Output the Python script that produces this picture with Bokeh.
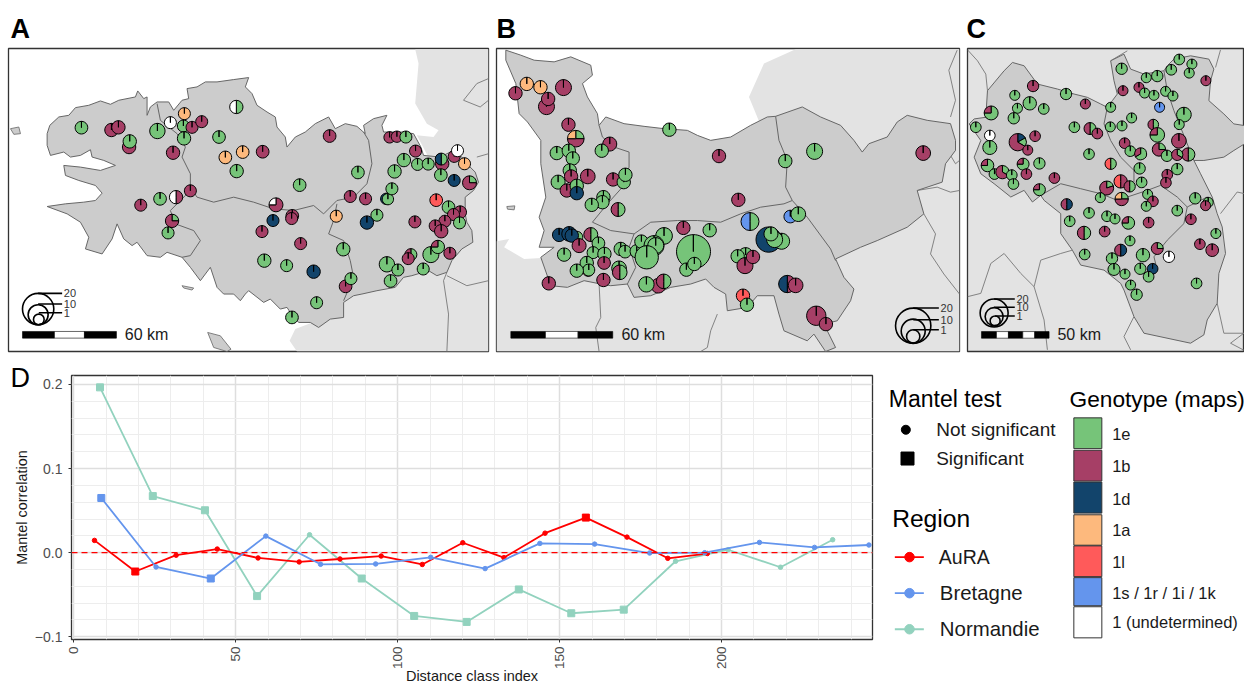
import math
from bokeh.plotting import figure
from bokeh.layouts import column, row
from bokeh.models import Range1d, FixedTicker, Title
from bokeh.core.properties import value
from bokeh.embed import file_html
from bokeh.resources import INLINE

FONT = "Liberation Sans"
GENO = {"e": "#76C479", "b": "#A63F66", "d": "#12446B", "a": "#FDB97D",
        "l": "#FF5A5A", "s": "#6495ED", "u": "#FFFFFF"}

# ---- Panel D: Mantel correlograms
aura_x = [6.4, 19, 31.6, 44.3, 56.9, 69.6, 82.2, 94.9, 107.6, 120.1, 132.8, 145.5, 158.1, 170.8, 183.4, 195.6]
aura_y = [.0146, -.0224, -.003, .0043, -.0063, -.011, -.0075, -.004, -.014, .0118, -.0059, .0232, .0417, .0185, -.0067, -.001]
aura_sig = [0, 1, 0, 0, 0, 0, 0, 0, 0, 0, 0, 0, 1, 0, 0, 0]
bret_x = [8.5, 25.4, 42.3, 59.3, 76.2, 93.2, 110.2, 127, 143.9, 160.8, 177.8, 194.8, 211.7, 228.7, 245.5]
bret_y = [.065, -.017, -.0307, .0197, -.0138, -.0134, -.0055, -.0189, .011, .0102, -.0004, 0, .0122, .0063, .0091]
bret_sig = [1, 0, 1, 0, 0, 0, 0, 0, 0, 0, 0, 0, 0, 0, 0]
norm_x = [8.1, 24.4, 40.5, 56.6, 72.8, 88.9, 105.1, 121.3, 137.4, 153.6, 169.8, 185.8, 202, 218.2, 234.3]
norm_y = [.1965, .0673, .0504, -.0516, .0213, -.0307, -.0752, -.0823, -.0437, -.072, -.0677, -.0102, .0035, -.0173, .0154]
norm_sig = [1, 1, 1, 1, 0, 1, 1, 1, 1, 1, 1, 0, 0, 0, 0]
x_ticks = [0, 50, 100, 150, 200]
x_minor = [10, 20, 30, 40, 60, 70, 80, 90, 110, 120, 130, 140, 160, 170, 180, 190, 210, 220, 230, 240]
y_ticks = [-0.1, 0.0, 0.1, 0.2]
y_minor = [-.08, -.06, -.04, -.02, .02, .04, .06, .08, .12, .14, .16, .18]
y_tick_labels = {-0.1: "\u22120.1", 0.0: "0.0", 0.1: "0.1", 0.2: "0.2"}

# ---- Panel A: sites (x, y, radius, clockwise genotype parts)
a_x = [243,333,354,386,388,471,510,552,549,551,575,604,518,656,708,675,727,787,709,988,1073,898,570,421,479,527,515,503,827,876,874,818,785,901,792,859,940,949,875,1029,1036,1052,1008,1050,1096,1158,1163,1175,1130,1100,1183,1168,1190,1217,1246,1211,1252,1284,1326,1323,1322,1362,1362,1372,1393,1408,1308,1345,1380,1360,1378,1244,1334,1305,1323,1292,1313,1349,1232,1224,1160,1193,1269,1171]
a_y = [382,389,381,440,423,392,367,340,377,414,381,364,457,410,320,471,455,454,512,407,516,554,571,614,595,590,661,697,613,646,654,660,693,729,780,795,813,906,950,746,857,834,647,588,595,595,596,565,644,666,513,411,409,410,452,479,492,491,490,476,524,540,468,451,490,547,599,620,635,642,667,664,662,676,692,762,739,758,762,774,791,808,805,841]
a_r = [19,20,20,20,20,23,18,18,18,20,18,18,20,19,20,19,19,19,20,19,19,19,18,18,19,20,20,18,21,19,18,18,18,18,20,18,20,18,19,20,19,18,18,18,18,17,17,18,18,20,20,17,17,18,18,20,18,18,20,18,19,18,18,18,18,21,19,19,19,18,18,18,18,18,20,24,20,18,18,18,23,18,18,19]
a_mix = ["e","b","b","b","e","e","u","a","e","e","b","b","b","e","eu","a","a","b","e","b","e","e","b","b","e","bu","ebbb","e","bbbu","b","b","d","b","b","e","e","d","e","e","e","b","e","a","b","b","d","e","e","e","d","e","b","b","e","b","e","e","e","b","ed","e","d","b","u","a","ebbb","l","e","b","b","e","b","b","b","b","e","eeeb","b","eb","b","e","e","e","e"]

# ---- Panel B
b_x = [74,108,149,218,167,172,233,255,357,333,536,198,234,246,237,241,291,202,228,258,258,367,399,404,338,335,303,382,685,884,972,1298,743,578,657,258,205,235,243,265,300,323,220,307,341,340,288,292,294,258,338,174,390,403,385,387,438,452,520,490,495,468,608,587,611,503,467,519,778,899,923,834,873,852,841,765,741,763,787,890,915,757,769,977,1006]
b_y = [279,251,261,262,319,296,373,415,431,451,388,458,451,474,510,528,528,545,570,556,578,537,545,523,590,605,613,627,467,482,453,458,598,682,689,710,703,700,705,735,702,728,762,756,760,787,787,810,808,810,838,848,745,753,803,815,752,723,706,735,735,770,753,807,790,855,851,842,663,648,641,717,722,717,700,763,767,795,769,850,854,885,912,945,970]
b_r = [20,20,20,24,24,20,20,25,21,20,20,20,20,20,20,20,22,21,20,20,20,20,20,20,20,20,20,21,20,20,24,22,20,20,20,18,20,22,20,21,21,19,20,18,20,19,20,17,18,20,20,20,20,19,22,22,20,20,25,30,24,35,51,20,20,22,23,22,27,19,22,38,24,24,21,22,20,24,20,26,22,20,20,29,20]
b_mix = ["b","a","a","b","b","b","b","ebba","b","e","e","e","e","e","e","b","b","e","b","e","d","b","e","e","e","e","e","eb","b","e","e","b","b","b","e","e","d","d","d","b","eb","e","e","e","e","b","e","b","e","e","b","b","e","e","e","eb","e","e","e","e","e","e","e","e","e","b","e","eb","es","s","e","d","e","e","e","e","e","b","b","bd","b","l","e","b","b"]

# ---- Panel C
c_x = [656,694,632,686,483,557,590,736,217,487,535,552,580,615,637,162,316,207,374,450,170,249,597,91,159,513,670,45,341,388,449,484,578,656,410,87,590,223,171,87,201,655,492,509,540,595,619,683,650,385,450,537,650,80,236,187,101,125,153,158,197,281,620,616,236,480,543,507,438,419,561,483,577,557,704,743,735,650,691,318,385,439,463,327,503,564,432,370,766,508,718,590,755,480,372,547,454,625,460,539,576,564,493,708,510,528]
c_y = [176,190,207,217,204,231,226,240,256,270,260,277,284,272,286,284,280,308,310,320,323,325,320,337,353,352,342,380,380,384,379,376,372,372,399,405,403,407,425,441,449,421,428,452,460,447,466,462,463,461,490,504,506,495,489,491,521,515,524,551,521,533,523,547,568,543,546,558,563,592,582,596,603,618,594,606,616,631,657,612,638,648,656,663,668,667,694,698,700,722,732,745,750,750,763,765,775,770,808,806,806,830,822,850,855,884]
c_r = [16,15,16,15,17,15,17,15,17,15,15,15,15,15,15,15,17,20,15,15,15,16,15,21,17,15,22,16,16,18,15,15,16,15,16,16,22,16,26,21,15,22,16,16,18,20,17,20,17,16,17,17,17,19,17,18,16,20,16,16,16,16,16,16,18,20,16,17,21,15,15,20,16,15,17,15,15,16,16,17,16,16,15,16,19,16,16,20,15,15,16,18,19,18,16,20,17,17,18,17,16,16,15,16,15,17]
c_mix = ["e","e","e","e","e","e","e","b","b","b","b","e","e","e","e","e","e","e","b","e","e","e","s","eeeb","e","e","e","e","e","eb","e","e","eb","e","b","u","eeeb","b","debbbb","e","b","b","b","e","eeb","ebbb","e","eb","ebb","e","el","e","e","eeeb","e","eeeb","e","ebb","e","e","b","b","b","b","eeeb","bl","e","eb","ebbbb","e","e","ebba","b","e","e","e","b","e","b","db","e","e","e","e","eeeb","b","b","eb","e","e","b","ebbb","b","db","e","e","e","u","e","e","d","e","e","e","e","e"]

# ---- Map outlines
a_region = [(140,400),(148,375),(175,350),(205,345),(225,322),(265,315),(300,302),(330,312),(355,300),(405,290),(412,272),(430,295),(440,290),(440,345),(450,320),(470,305),(505,305),(520,330),(545,300),(565,295),(560,265),(590,260),(615,245),(650,245),(700,238),(745,232),(735,260),(755,280),(770,315),(800,335),(825,350),(830,380),(855,410),(860,440),(885,410),(915,395),(945,370),(985,350),(1005,385),(1035,370),(1070,378),(1095,400),(1090,375),(1120,355),(1160,345),(1145,375),(1150,395),(1205,395),(1240,400),(1262,440),(1270,465),(1320,470),(1360,450),(1385,470),(1400,490),(1425,515),(1435,545),(1420,570),(1395,590),(1395,640),(1400,665),(1415,690),(1418,725),(1385,745),(1355,780),(1340,815),(1310,825),(1285,810),(1235,825),(1210,830),(1185,860),(1130,870),(1085,880),(1060,885),(1030,905),(1030,950),(990,955),(955,980),(930,965),(895,965),(870,935),(860,920),(840,925),(810,895),(790,905),(745,870),(735,880),(720,900),(700,880),(670,880),(650,860),(630,800),(600,840),(570,800),(545,770),(500,755),(480,770),(440,765),(410,725),(395,735),(370,715),(350,670),(335,715),(305,760),(255,745),(265,710),(240,665),(200,640),(140,618),(195,610),(250,605),(285,600),(305,578),(285,555),(235,540),(195,525),(190,495),(240,500),(300,510),(345,495),(310,480),(275,470),(270,448),(240,465),(210,470),(190,455),(150,465),(140,435)]
a_region_x = [q[0] for q in a_region]; a_region_y = [q[1] for q in a_region]
a_land_x = [1245,1465,1465,890,868,885,950,1030,1200,1300,1250,1300,1315,1280,1245,1255]
a_land_y = [147,147,1052,1052,1020,985,960,900,800,500,405,410,390,370,310,190]
a_depts = [([470,480,530,555,545,570,570,590,640,700,760,820,880,940,970,1010,1060,1100,1115,1105,1090],[310,360,400,440,470,520,560,590,605,590,605,625,630,615,640,600,590,550,490,420,395]),
           ([570,540,510,525,580,600,570,545],[570,600,630,670,690,720,765,770]),
           ([1010,1000,985,1030,1050,1060,1030],[610,660,700,720,780,830,900])]
a_neigh = [([1390,1430,1465],[300,250,235]),([1390,1440,1465],[300,320,300]),([1430,1465],[470,460]),
           ([1340,1400,1465],[825,855,840]),([1340,1330,1345,1340],[815,840,940,1052])]
a_isles = [([30,55,60,40],[385,380,400,402]),([545,580,575,550],[855,862,868,862]),([622,660,692,680,640],[995,1005,1045,1052,1040])]
b_region_x = [45,90,130,190,240,300,305,275,290,320,325,345,400,460,520,590,620,660,720,780,830,855,935,990,1050,1090,1115,1135,1190,1220,1250,1310,1380,1395,1395,1365,1355,1280,1300,1250,1160,1110,1035,1060,1090,1080,1040,1000,1035,1005,970,950,880,865,850,800,770,710,705,670,645,600,540,480,430,410,360,330,280,230,180,150,190,145,160,145,165,150,150,110,85,75,45]
b_region_y = [150,165,180,185,170,195,225,250,290,340,375,350,370,378,385,390,405,420,410,375,350,348,320,350,375,420,455,430,410,365,345,360,370,420,450,490,545,570,640,680,720,740,775,830,865,900,960,970,1040,1052,1000,1020,990,940,885,885,920,930,880,860,835,850,860,885,890,850,855,850,840,860,855,770,740,740,690,650,590,490,420,365,340,250,180]
b_land_x = [915,1407,1407,17,17,55,40,100,190,300,600,810,775,820]
b_land_y = [147,147,1052,1052,722,715,740,775,770,600,500,375,290,190]
b_depts = [([325,335,370,415,415,395,350,305,360,430,480,560,620,690,750,810,880,905],[375,410,440,455,500,560,610,665,690,700,665,660,660,665,640,620,610,600]),
           ([855,865,890,885,905],[348,420,480,560,600]),([430,415,435,410],[700,740,800,850]),
           ([905,950,1020,1035],[600,650,745,780])]
b_neigh = [([1280,1340,1380,1407],[570,560,575,570]),([1300,1335,1320,1360,1407],[640,700,760,820,880]),
           ([1395,1380,1395,1407],[450,465,490,480]),([1400,1375,1395,1380],[150,210,300,350]),
           ([325,330,315,325],[850,950,980,1052]),([680,660,650,630],[940,990,1040,1052])]
b_isles = [([48,72,70,50],[618,616,628,626])]
c_region_x = [25,40,75,80,130,155,190,230,290,340,380,420,440,455,470,460,450,490,510,550,610,620,640,690,745,760,750,745,790,820,852,852,820,790,730,700,720,755,770,785,795,775,770,740,730,690,550,520,490,480,430,360,335,300,300,250,240,215,190,150,100,60,40,60]
c_region_y = [370,355,350,270,210,185,195,250,265,280,290,310,320,300,280,240,180,160,205,220,210,195,175,165,175,205,240,300,340,370,375,430,450,470,480,480,520,590,640,680,760,820,910,960,1005,1030,1000,950,870,850,810,795,750,700,640,600,585,605,570,590,550,520,470,420]
c_depts = [([440,430,450,480,520,520],[320,370,420,470,510,545]),
           ([240,300,360,420,470,560,600,650,680,740],[585,550,565,580,600,570,555,590,620,590]),
           ([680,670,620,580,590],[620,670,720,770,810]),([610,620,640,660,700],[210,270,330,380,480])]
c_neigh = [([20,50,75,80],[147,180,220,270]),([450,500],[180,150]),([765,780],[200,147]),
           ([20,60,90,130,180,220,240,300,335],[890,880,790,760,820,860,780,760,750]),([220,250,260],[860,960,1050]),
           ([520,490,510],[950,1010,1050]),([770,790,850],[910,1000,1000]),([850,810,852],[1000,1030,1052]),([780,830,852],[640,575,580])]

# ---- Scale bars and size legends
a_bar = [66,162,252,348]; b_bar = [60,164,262,366]; c_bar = [62,107,143,186,222,265]
size_labels = ["20", "10", "1"]
frame_a = (24, 1465, 1052, 145); frame_b = (17, 1407, 1052, 145); frame_c = (20, 852, 1055, 143)

def letter(t, offset, standoff, bold=True):
    return Title(text=t, text_font=FONT, text_font_size="27px", text_font_style="bold" if bold else "normal",
                 text_color="black", align="left", offset=offset, standoff=standoff)

def map_fig(w, frame, left, right, title, off):
    p = figure(width=w, height=358, x_range=Range1d(frame[0], frame[1]), y_range=Range1d(frame[2], frame[3]),
               toolbar_location=None, output_backend="svg", x_axis_location=None, y_axis_location=None,
               min_border_left=left, min_border_right=right, min_border_top=48, min_border_bottom=7,
               background_fill_color="white", outline_line_color="#333333", outline_line_width=1.3,
               title=letter(title, off, 10))
    p.grid.visible = False
    return p

def draw_map(p, land, region, depts, neigh, isles, xs, ys, rs, mixes, bar, bar_y, bar_text, tx,
             ctr, radii, tops, lx):
    if land is not None:
        p.patch(land[0], land[1], fill_color="#E3E3E3", line_color=None)
    p.multi_line([n[0] for n in neigh], [n[1] for n in neigh], line_color="#777777", line_width=0.9)
    for isle in isles:
        p.patch(isle[0], isle[1], fill_color="#CCCCCC", line_color="#666666", line_width=0.8)
    p.patch(region[0], region[1], fill_color="#CCCCCC", line_color="#666666", line_width=1)
    p.multi_line([d[0] for d in depts], [d[1] for d in depts], line_color="#666666", line_width=1)
    # pies
    X, Y, R, S, E, C = [], [], [], [], [], []
    for x, y, r, mix in zip(xs, ys, rs, mixes):
        n = len(mix)
        i = 0
        while i < n:
            j = i
            while j < n and mix[j] == mix[i]:
                j += 1
            sa = math.pi / 2 - 2 * math.pi * i / n
            ea = math.pi / 2 - 2 * math.pi * j / n
            if n == j and i == 0:
                ea = sa + 1e-4
            X.append(x); Y.append(y); R.append(r); S.append(sa); E.append(ea); C.append(GENO[mix[i]])
            i = j
    p.wedge(X, Y, radius=R, start_angle=S, end_angle=E, direction="clock", fill_color=C,
            line_color="black", line_width=1)
    # scale bar
    cols = ["black" if k % 2 == 0 else "white" for k in range(len(bar) - 1)]
    p.quad(left=bar[:-1], right=bar[1:], top=bar_y[0], bottom=bar_y[1], fill_color=cols, line_color="black", line_width=0.6)
    p.text([tx], [sum(bar_y) / 2], text=[bar_text], text_font=value(FONT), text_font_size="16px",
           text_baseline="middle", text_color="#1a1a1a")
    # size legend
    for (cx, cy), rr, ty in zip(ctr, radii, tops):
        p.circle([cx], [cy], radius=rr, fill_color=None, line_color="black", line_width=1.6)
        p.line([cx, lx], [ty, ty], line_color="black", line_width=1.6)
    p.text([lx + 5] * 3, tops, text=size_labels, text_font=value(FONT), text_font_size="11px",
           text_baseline="middle", text_color="#333333")

pA = map_fig(492, frame_a, 8, 4, "A", 2)
draw_map(pA, (a_land_x, a_land_y), (a_region_x, a_region_y), a_depts, a_neigh, a_isles, a_x, a_y, a_r, a_mix,
         a_bar, (992, 1012), "60 km", 373, [(113, 925), (113, 942), (115, 956)], [47, 30, 16], [878, 910, 936], 185)

pB = map_fig(471, frame_b, 4, 4, "B", 0)
draw_map(pB, (b_land_x, b_land_y), (b_region_x, b_region_y), b_depts, b_neigh, b_isles, b_x, b_y, b_r, b_mix,
         b_bar, (992, 1012), "60 km", 392, [(1268, 975), (1268, 991), (1268, 1007)], [53, 36, 20], [922, 957, 987], 1345)

pC = map_fig(281, frame_c, 4, 0, "C", -1)
pC.background_fill_color = "#E3E3E3"
draw_map(pC, None, (c_region_x, c_region_y), c_depts, c_neigh, [], c_x, c_y, c_r, c_mix,
         c_bar, (995, 1015), "50 km", 290, [(100, 939), (100, 950), (103, 963)], [42, 27, 15], [897, 922, 948], 162)

# ---- Panel D
pD = figure(width=880, height=329, x_range=Range1d(-0.7, 246.6), y_range=Range1d(-0.1032, 0.2106),
            toolbar_location=None, output_backend="svg", min_border_left=71, min_border_right=8,
            min_border_top=17, min_border_bottom=46, outline_line_color="#333333", outline_line_width=1.3,
            x_axis_label="Distance class index", y_axis_label="Mantel correlation",
            title=letter("D", -61, -34, bold=False))
pD.xaxis.ticker = FixedTicker(ticks=x_ticks, minor_ticks=x_minor)
pD.yaxis.ticker = FixedTicker(ticks=y_ticks, minor_ticks=y_minor)
pD.yaxis.major_label_overrides = y_tick_labels
pD.xaxis.major_label_orientation = math.pi / 2
for ax in (pD.xaxis[0], pD.yaxis[0]):
    ax.axis_line_color = None
    ax.minor_tick_line_color = None
    ax.major_tick_in = 0
    ax.major_tick_out = 3
    ax.major_tick_line_color = "#333333"
    ax.major_label_text_font = FONT
    ax.major_label_text_color = "#4D4D4D"
    ax.axis_label_text_font = FONT
    ax.axis_label_text_font_style = "normal"
    ax.axis_label_text_color = "#1a1a1a"
pD.xaxis.major_label_text_font_size = "13.5px"
pD.yaxis.major_label_text_font_size = "14px"
pD.xaxis.axis_label_text_font_size = "14.5px"
pD.yaxis.axis_label_text_font_size = "14.4px"
pD.xaxis.major_label_standoff = 3
pD.xaxis.axis_label_standoff = -4
pD.yaxis.axis_label_standoff = 2
for g in (pD.xgrid[0], pD.ygrid[0]):
    g.grid_line_color = "#DEDEDE"
    g.grid_line_width = 1.5
    g.minor_grid_line_color = "#EDEDED"
    g.minor_grid_line_width = 1

def series(x, y, sig, col):
    pD.line(x, y, line_color=col, line_width=1.8)
    nx = [a for a, s in zip(x, sig) if not s]; ny = [a for a, s in zip(y, sig) if not s]
    sx = [a for a, s in zip(x, sig) if s]; sy = [a for a, s in zip(y, sig) if s]
    pD.scatter(nx, ny, marker="circle", size=4.5, fill_color=col, line_color=col)
    pD.scatter(sx, sy, marker="square", size=7, fill_color=col, line_color=col)

series(norm_x, norm_y, norm_sig, "#92D2BE")
series(aura_x, aura_y, aura_sig, "#FF0000")
series(bret_x, bret_y, bret_sig, "#6495ED")
pD.line([-0.7, 246.6], [0, 0], line_color="#FF0000", line_width=1.3, line_dash="6 4")

# ---- Legends (frame of this figure is aligned with panel D's frame by the row)
leg_titles = ["Mantel test", "Genotype (maps)", "Region"]
leg_title_x = [55, 597, 65]; leg_title_y = [72, 72, 433]; leg_title_size = ["23px", "22.7px", "24.6px"]
mantel_labels = ["Not significant", "Significant"]; mantel_y = [164, 252]
region_labels = ["AuRA", "Bretagne", "Normandie"]; region_y = [549, 658, 767]
region_cols = ["#FF0000", "#6495ED", "#92D2BE"]; region_x = [205, 208, 208]; region_size = ["19.5px", "20.4px", "20.4px"]
geno_labels = ["1e", "1b", "1d", "1a", "1l", "1s / 1r / 1i / 1k", "1 (undetermined)"]
geno_keys = ["e", "b", "d", "a", "l", "s", "u"]
geno_top = [128, 226, 322, 421, 515, 611, 699]; geno_bot = [221, 319, 416, 513, 608, 696, 793]
geno_ly = [177, 275, 372, 467, 564, 657, 745]

pL = figure(width=364, height=329, x_range=Range1d(30, 1122), y_range=Range1d(798, 0), toolbar_location=None,
            output_backend="svg", x_axis_location=None, y_axis_location=None, min_border=0, outline_line_color=None)
pL.grid.visible = False
for t, x, y, s in zip(leg_titles, leg_title_x, leg_title_y, leg_title_size):
    pL.text([x], [y], text=[t], text_font=value(FONT), text_font_size=s, text_baseline="middle", text_color="black")
pL.scatter([106], [164], marker="circle", size=9, fill_color="black", line_color="black")
pL.scatter([111], [251], marker="square", size=13, fill_color="black", line_color="black")
pL.text([197, 197], mantel_y, text=mantel_labels, text_font=value(FONT), text_font_size="19px",
        text_baseline="middle", text_color="#1a1a1a")
for t, x, y, c, s in zip(region_labels, region_x, region_y, region_cols, region_size):
    pL.line([73, 160], [y, y], line_color=c, line_width=1.8)
    pL.scatter([117], [y], marker="circle", size=9.5, fill_color=c, line_color=c)
    pL.text([x], [y], text=[t], text_font=value(FONT), text_font_size=s, text_baseline="middle", text_color="#1a1a1a")
pL.quad(left=610, right=694, top=geno_top, bottom=geno_bot, fill_color=[GENO[k] for k in geno_keys],
        line_color="#333333", line_width=1)
pL.text([725] * 7, geno_ly, text=geno_labels, text_font=value(FONT), text_font_size="16.5px",
        text_baseline="middle", text_color="#1a1a1a")

layout = column(row(pA, pB, pC), row(pD, pL))
open("out.html", "w").write(file_html(layout, INLINE))
